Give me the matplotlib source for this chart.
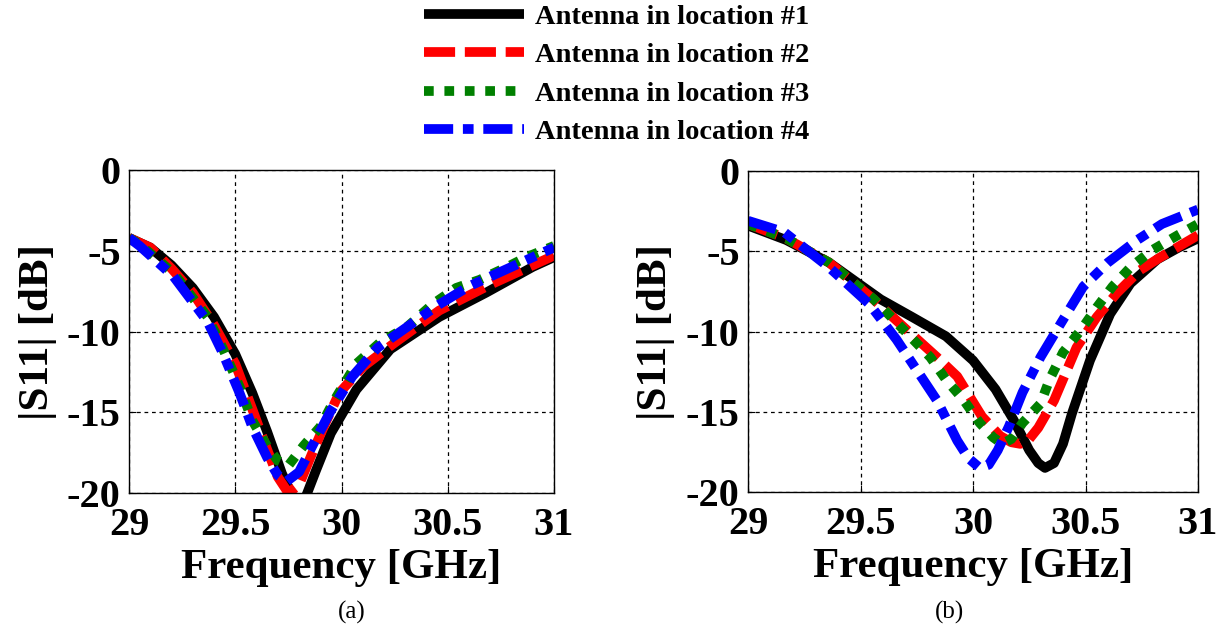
import matplotlib
matplotlib.use("Agg")
import matplotlib.pyplot as plt

plt.rcParams['font.family'] = ['Liberation Serif', 'DejaVu Serif']
plt.rcParams['axes.unicode_minus'] = False

labels = ['Antenna in location #1', 'Antenna in location #2',
          'Antenna in location #3', 'Antenna in location #4']
colors = ['black', 'red', 'green', 'blue']

# (a)
fa1 = [29, 29.1, 29.2, 29.3, 29.4, 29.5, 29.58, 29.65, 29.72, 29.78, 29.83, 29.88, 29.95,
       30.07, 30.23, 30.46, 30.68, 30.9, 31]
sa1 = [-4.2, -4.8, -5.9, -7.3, -9.1, -11.4, -13.8, -16.2, -18.8, -20.5, -20.3, -18.6, -16.3,
       -13.6, -11.1, -9.1, -7.6, -6.0, -5.4]
fa2 = [29, 29.1, 29.2, 29.3, 29.4, 29.5, 29.58, 29.65, 29.7, 29.75, 29.8, 29.86, 29.93, 29.99,
       30.1, 30.25, 30.46, 30.7, 31]
sa2 = [-4.2, -4.8, -6.1, -7.6, -9.6, -12.0, -14.8, -17.3, -19.0, -20.0, -19.5, -17.6, -15.5,
       -13.8, -12.2, -10.7, -8.7, -7.1, -5.3]
fa3 = [29, 29.05, 29.21, 29.37, 29.44, 29.52, 29.58, 29.65, 29.7, 29.75, 29.82, 29.9, 29.96,
       30.07, 30.18, 30.31, 30.43, 30.54, 30.65, 30.78, 30.87, 31]
sa3 = [-4.2, -4.6, -6.4, -9.1, -11.0, -13.4, -15.5, -17.1, -18.0, -18.3, -17.1, -15.9, -14.4,
       -12.0, -10.7, -9.7, -8.3, -7.3, -6.8, -6.0, -5.4, -4.7]
fa4 = [29, 29.05, 29.21, 29.37, 29.44, 29.52, 29.58, 29.65, 29.7, 29.74, 29.8, 29.87, 29.95,
       30.05, 30.17, 30.3, 30.45, 30.6, 30.8, 31]
sa4 = [-4.2, -4.7, -6.6, -9.4, -11.3, -13.8, -15.9, -17.8, -18.9, -19.3, -18.7, -16.9, -14.9,
       -12.8, -11.0, -9.8, -8.4, -7.2, -6.0, -4.8]

# (b)
fb1 = [29, 29.17, 29.36, 29.59, 29.73, 29.88, 30.0, 30.1, 30.18, 30.25, 30.29, 30.32, 30.36,
       30.4, 30.44, 30.52, 30.61, 30.7, 30.82, 30.91, 31]
sb1 = [-3.4, -4.3, -5.7, -8.0, -9.1, -10.3, -11.8, -13.6, -15.5, -17.4, -18.2, -18.5, -18.2,
       -17.0, -15.1, -11.8, -8.9, -7.0, -5.5, -4.8, -4.2]
fb2 = [29, 29.17, 29.36, 29.55, 29.69, 29.84, 29.93, 30.04, 30.12, 30.17, 30.21, 30.25, 30.29,
       30.36, 30.46, 30.55, 30.64, 30.74, 30.83, 31]
sb2 = [-3.3, -4.2, -5.7, -7.9, -9.7, -11.6, -12.8, -15.3, -16.5, -16.9, -17.0, -16.7, -16.0,
       -14.3, -11.0, -9.1, -7.6, -6.2, -5.4, -4.0]
fb3 = [29, 29.17, 29.36, 29.56, 29.72, 29.81, 29.88, 29.96, 30.03, 30.09, 30.13, 30.17, 30.22,
       30.3, 30.34, 30.4, 30.48, 30.55, 30.62, 30.7, 30.8, 30.91, 31]
sb3 = [-3.3, -4.2, -5.7, -8.0, -10.3, -11.6, -13.0, -14.3, -15.7, -16.6, -17.0, -16.7, -15.7,
       -14.5, -13.0, -11.3, -9.9, -8.5, -7.2, -6.0, -4.9, -4.0, -3.3]
fb4 = [29, 29.16, 29.36, 29.54, 29.66, 29.75, 29.84, 29.93, 29.98, 30.03, 30.07, 30.11, 30.16,
       30.22, 30.3, 30.39, 30.49, 30.6, 30.73, 30.84, 31]
sb4 = [-3.1, -3.8, -6.0, -8.3, -10.5, -12.4, -14.3, -16.8, -17.9, -18.5, -18.3, -17.4, -15.9,
       -13.8, -11.6, -9.5, -7.2, -5.7, -4.3, -3.3, -2.4]

panel_a = [(fa1, sa1), (fa2, sa2), (fa3, sa3), (fa4, sa4)]
panel_b = [(fb1, sb1), (fb2, sb2), (fb3, sb3), (fb4, sb4)]

xticks = [29, 29.5, 30, 30.5, 31]
xticklabels = ['29', '29.5', '30', '30.5', '31']
yticks = [0, -5, -10, -15, -20]
yticklabels = ['0', '-5', '-10', '-15', '-20']

styles = ['-', (0, (3.2, 1.0)), (0, (1.0, 1.1)), (0, (3.0, 1.0, 1.1, 1.0))]
lw = 7

fig = plt.figure(figsize=(12.23, 6.41), dpi=100)
ax_a = fig.add_axes([129/1223, 1-493/641, 425/1223, 323/641])
ax_b = fig.add_axes([748/1223, 1-492/641, 450/1223, 321/641])

for ax, panel, ylpad in [(ax_a, panel_a, 7), (ax_b, panel_b, 8)]:
    for (f, s), c, ls, lab in zip(panel, colors, styles, labels):
        ax.plot(f, s, color=c, linestyle=ls, linewidth=lw, label=lab,
                solid_capstyle='butt', dash_capstyle='butt',
                solid_joinstyle='round')
    ax.set_xlim(29, 31)
    ax.set_ylim(-20, 0)
    ax.set_xticks(xticks)
    ax.set_xticklabels(xticklabels)
    ax.set_yticks(yticks)
    ax.set_yticklabels(yticklabels)
    ax.grid(True, color='black', linestyle=(0, (3, 3)), linewidth=0.9)
    ax.tick_params(direction='in', length=5, labelsize=29)
    ax.tick_params(axis='x', pad=10)
    ax.tick_params(axis='y', pad=6)
    for lbl in ax.get_xticklabels() + ax.get_yticklabels():
        lbl.set_fontweight('bold')
    for sp in ax.spines.values():
        sp.set_linewidth(1.0)
    ax.set_xlabel('Frequency [GHz]', fontsize=31, fontweight='bold', labelpad=4)
    ax.set_ylabel('|S11| [dB]', fontsize=31, fontweight='bold', labelpad=ylpad)

handles, _ = ax_a.get_legend_handles_labels()
fig.legend(handles, labels, loc='upper left', bbox_to_anchor=(424/1223, 1 - 4/641),
           frameon=False, borderpad=0, borderaxespad=0, handlelength=3.5,
           handletextpad=0.4, labelspacing=0.44,
           prop={'size': 20.5, 'weight': 'bold'})

fig.text(352/1223, 1-612/641, '(a)', fontsize=18, ha='center', va='center')
fig.text(950/1223, 1-612/641, '(b)', fontsize=18, ha='center', va='center')

fig.savefig('out.png', dpi=100)
